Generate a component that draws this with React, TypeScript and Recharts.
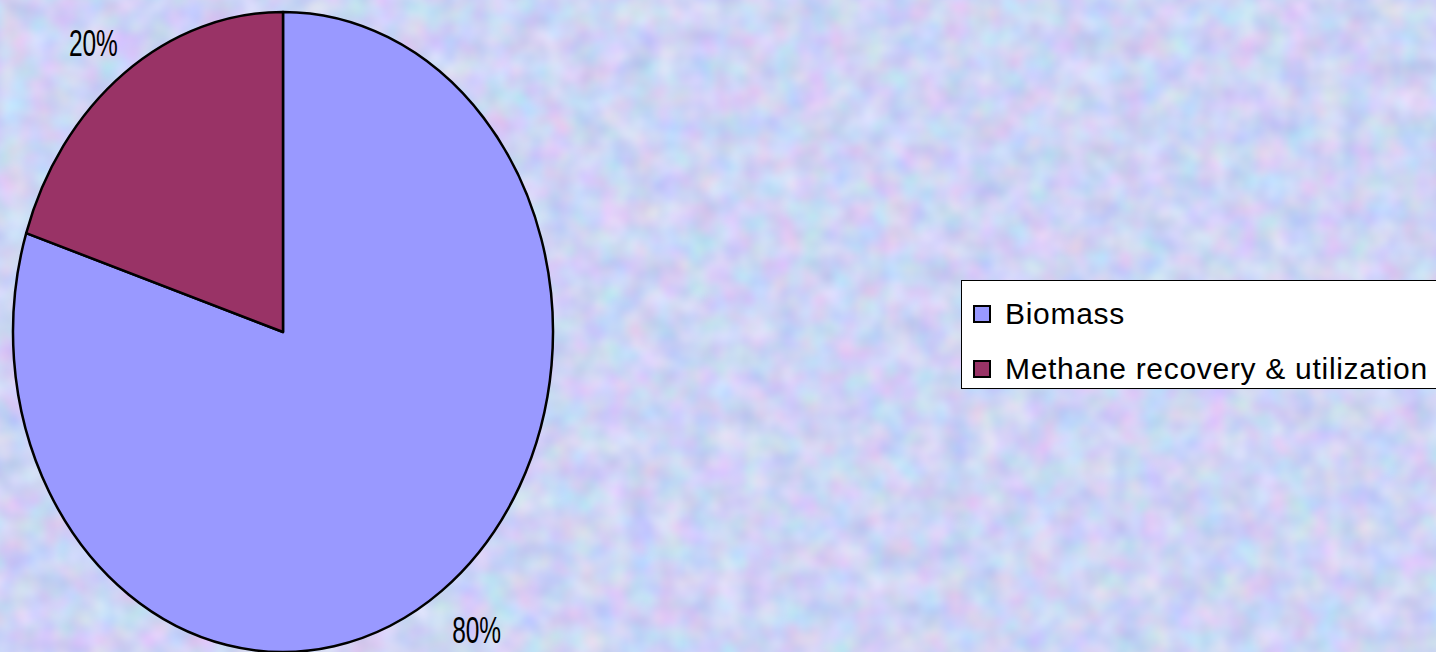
import React from "react";
import { PieChart, Pie, Cell, Legend } from "recharts";

const sourceNames = ["Biomass", "Methane recovery & utilization"];
const sourceShares = [80, 20];
const sourceColors = ["#9999ff", "#993366"];

const data = sourceNames.map((name, i) => ({ name, value: sourceShares[i] }));

const W = 1436;
const H = 652;
const RX = 270;
const RY = 320;
const FONT = "'Liberation Sans', Arial, sans-serif";
const RAD = Math.PI / 180;

// recharts only knows circles, so stretch each slice vertically into the ellipse
// eslint-disable-next-line @typescript-eslint/no-explicit-any
function EllipseSlice(props: any) {
  const { cx, cy, outerRadius, startAngle, endAngle, fill } = props;
  const k = RY / RX;
  const px = (a: number) => cx + outerRadius * Math.cos(a * RAD);
  const py = (a: number) => cy - outerRadius * k * Math.sin(a * RAD);
  const span = Math.abs(endAngle - startAngle);
  const large = span > 180 ? 1 : 0;
  const sweep = endAngle < startAngle ? 1 : 0;
  const d = `M${cx},${cy} L${px(startAngle)},${py(startAngle)} A${outerRadius},${outerRadius * k} 0 ${large} ${sweep} ${px(endAngle)},${py(endAngle)} Z`;
  return <path d={d} fill={fill} stroke="#000" strokeWidth={2.5} strokeLinejoin="round" />;
}

// eslint-disable-next-line @typescript-eslint/no-explicit-any
function SliceLabel(props: any) {
  const { cx, cy, midAngle, outerRadius, percent } = props;
  const c = Math.cos(midAngle * RAD);
  const s = Math.sin(midAngle * RAD);
  const x = cx + outerRadius * c + 56 * c + 2;
  const y = cy - outerRadius * (RY / RX) * s - 43 * s + 5;
  return (
    <text
      transform={`translate(${x},${y}) scale(0.68,1)`}
      textAnchor="middle"
      dominantBaseline="central"
      fontFamily={FONT}
      fontSize={36}
      fill="#000"
    >
      {`${Math.round(percent * 100)}%`}
    </text>
  );
}

// eslint-disable-next-line @typescript-eslint/no-explicit-any
function BoxLegend({ payload }: any) {
  return (
    <div
      style={{
        background: "#fff",
        border: "1px solid #000",
        padding: "14px 20px 0 11px",
        fontFamily: FONT,
        fontSize: 30,
        letterSpacing: 0.7,
        color: "#000",
        width: 520,
        boxSizing: "border-box",
      }}
    >
      {payload?.map((entry: { value: string; color: string }, i: number) => (
        <div
          key={entry.value}
          style={{
            display: "flex",
            alignItems: "center",
            height: 38,
            marginBottom: i === payload.length - 1 ? 0 : 17,
          }}
        >
          <span
            style={{
              width: 14,
              height: 14,
              background: entry.color,
              border: "2px solid #000",
              marginRight: 14,
              flexShrink: 0,
            }}
          />
          <span style={{ whiteSpace: "nowrap" }}>{entry.value}</span>
        </div>
      ))}
    </div>
  );
}

export default function App() {
  return (
    <div
      style={{
        position: "fixed",
        left: 0,
        top: 0,
        width: W,
        height: H,
        overflow: "hidden",
        backgroundColor: "#cdd4f5",
      }}
    >
      <svg width={W} height={H} style={{ position: "absolute", left: 0, top: 0 }}>
        <filter id="paper" colorInterpolationFilters="sRGB">
          <feTurbulence type="fractalNoise" baseFrequency="0.035" numOctaves={2} seed={3} />
          <feColorMatrix
            type="matrix"
            values="0.25 0 0 0 0.68  0 0.2 0 0 0.73  0 0 0.12 0 0.9  0 0 0 0 1"
          />
        </filter>
        <rect width={W} height={H} filter="url(#paper)" />
      </svg>
      <div style={{ position: "absolute", left: 0, top: 0 }}>
        <PieChart width={W} height={H}>
          <Pie
            data={data}
            dataKey="value"
            nameKey="name"
            cx={278}
            cy={327}
            outerRadius={RX}
            startAngle={90}
            endAngle={-270}
            shape={EllipseSlice}
            label={SliceLabel}
            labelLine={false}
            isAnimationActive={false}
          >
            {data.map((d, i) => (
              <Cell key={d.name} fill={sourceColors[i]} />
            ))}
          </Pie>
          <Legend
            content={<BoxLegend />}
            wrapperStyle={{ left: 961, top: 280, width: 520, right: "auto", bottom: "auto" }}
          />
        </PieChart>
      </div>
    </div>
  );
}
